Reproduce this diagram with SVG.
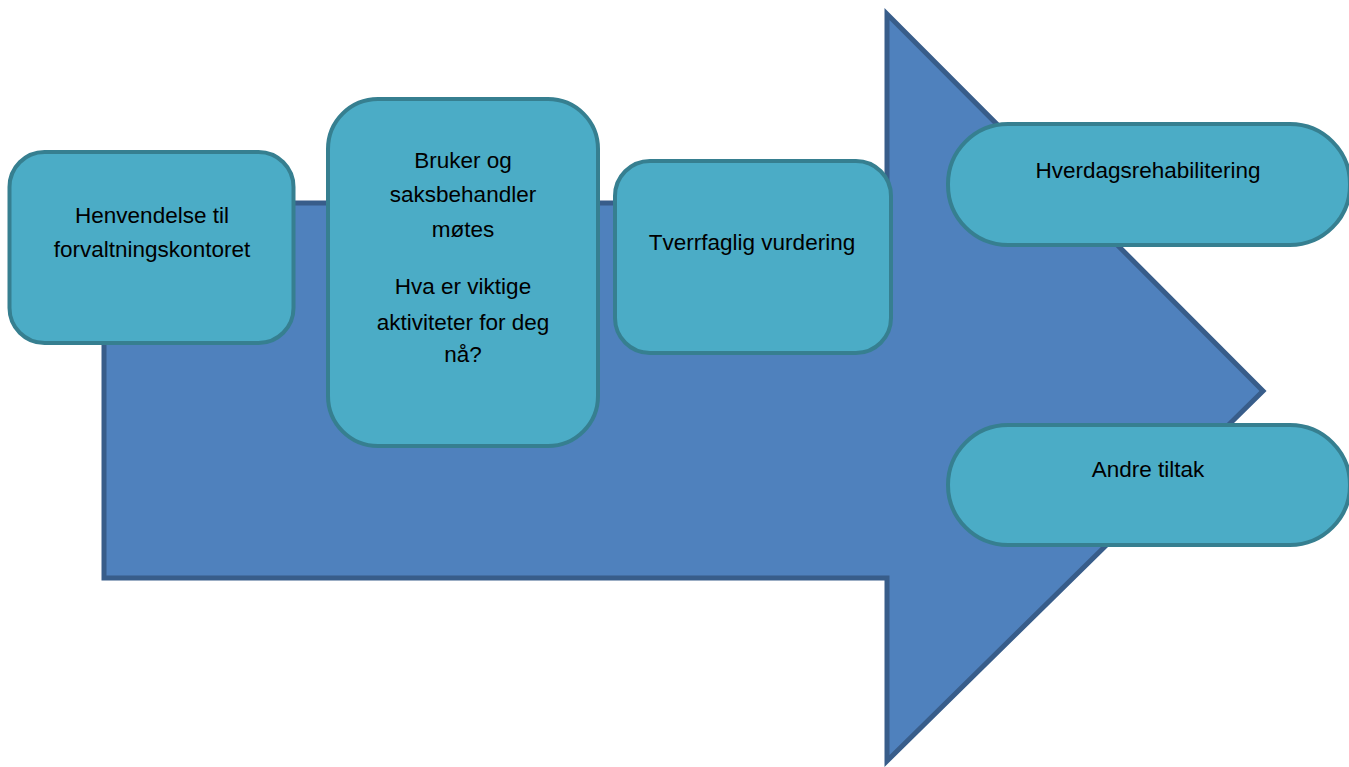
<svg xmlns="http://www.w3.org/2000/svg" width="1349" height="767" viewBox="0 0 1349 767">
<style>
.box{fill:#4BACC6;stroke:#367F90;stroke-width:4}
.lbl{font-family:"Liberation Sans",Arial,sans-serif;font-size:22.5px;fill:#000;text-anchor:middle}
</style>
<rect width="1349" height="767" fill="#fff"/>
<g id="arrow">
<polygon points="104,203 887,203 887,14 1263,391 887,761 887,578 104,578" fill="#4F81BD" stroke="#385D8A" stroke-width="5" stroke-linejoin="miter"/>
</g>
<g id="connectors"></g>
<g id="n1">
<rect class="box" x="9.5" y="152" width="284" height="191" rx="35"/>
<text class="lbl" x="152" y="223">Henvendelse til</text>
<text class="lbl" x="152" y="257">forvaltningskontoret</text>
</g>
<g id="n2">
<rect class="box" x="328" y="99" width="270" height="347" rx="50"/>
<text class="lbl" x="463" y="168">Bruker og</text>
<text class="lbl" x="463" y="202">saksbehandler</text>
<text class="lbl" x="463" y="237">møtes</text>
<text class="lbl" x="463" y="294">Hva er viktige</text>
<text class="lbl" x="463" y="330">aktiviteter for deg</text>
<text class="lbl" x="463" y="362">nå?</text>
</g>
<g id="n3">
<rect class="box" x="615" y="161" width="276" height="192" rx="35"/>
<text class="lbl" x="752" y="250">Tverrfaglig vurdering</text>
</g>
<g id="n4">
<rect class="box" x="948" y="124" width="402" height="121" rx="60"/>
<text class="lbl" x="1148" y="178">Hverdagsrehabilitering</text>
</g>
<g id="n5">
<rect class="box" x="948" y="425" width="402" height="120" rx="60"/>
<text class="lbl" x="1148" y="477">Andre tiltak</text>
</g>
</svg>
